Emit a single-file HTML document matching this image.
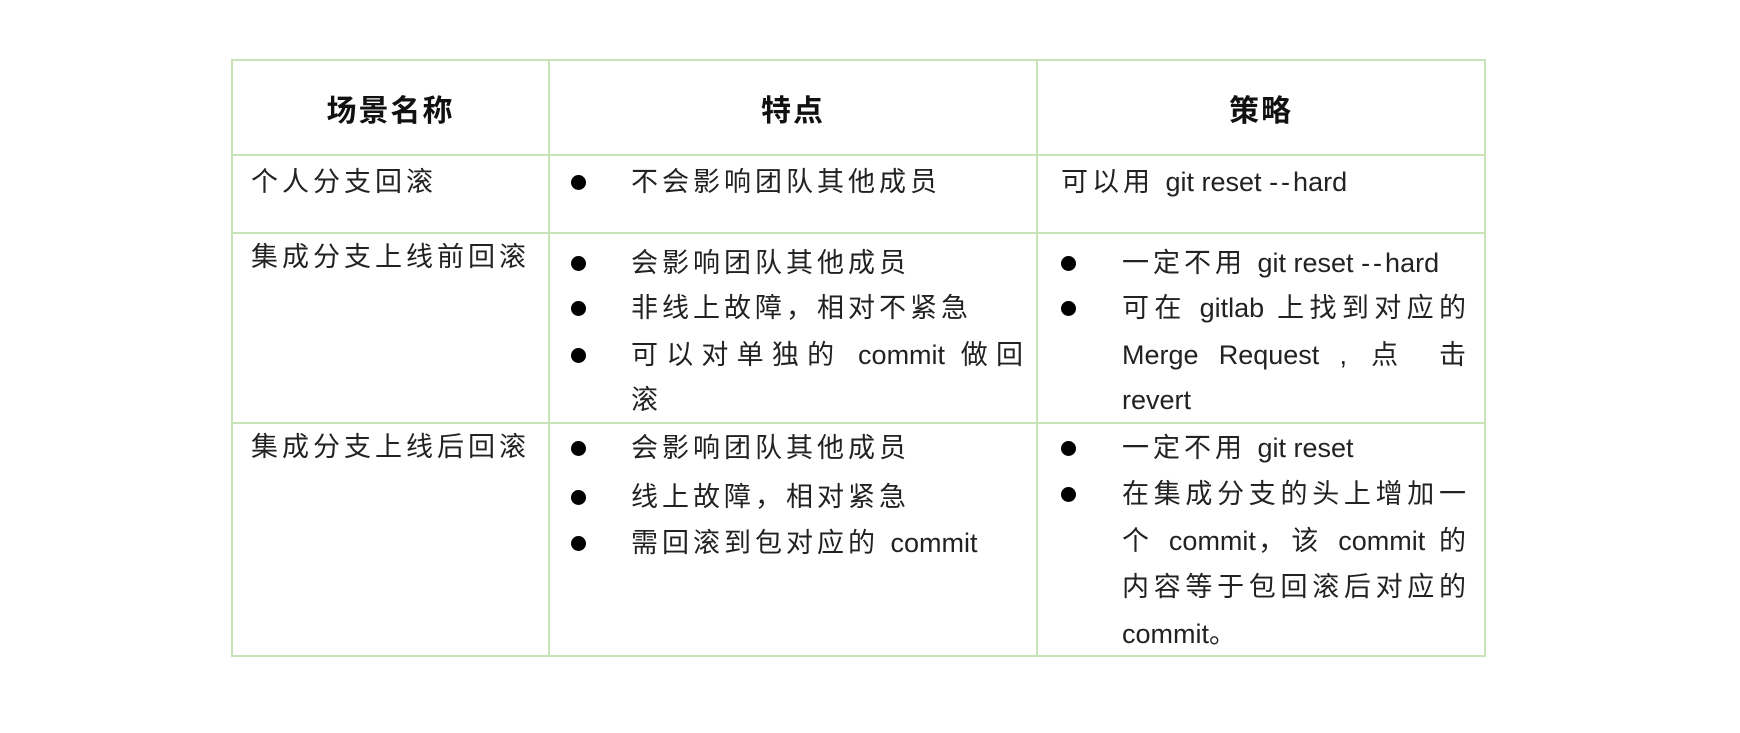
<!DOCTYPE html>
<html><head><meta charset="utf-8"><style>
body{margin:0;background:#fff;width:1740px;height:733px;position:relative;overflow:hidden;font-family:"Liberation Sans","Noto Sans CJK SC",sans-serif;color:#222}
.h{position:absolute;background:#c9e3b8}
.t{position:absolute;font-size:27px;line-height:40px;height:40px;white-space:nowrap;letter-spacing:4px}
.t span{letter-spacing:0}
.t span.d{letter-spacing:3px}
.j{text-align:justify;text-align-last:justify}
.b{position:absolute;width:15px;height:15px;border-radius:50%;background:#000}
.hd{position:absolute;font-size:30px;font-weight:bold;line-height:40px;text-align:center;letter-spacing:2px;color:#111}
</style></head><body>
<div class="h" style="left:232px;top:59px;width:1254px;height:2px"></div>
<div class="h" style="left:232px;top:154px;width:1254px;height:2px"></div>
<div class="h" style="left:232px;top:232px;width:1254px;height:2px"></div>
<div class="h" style="left:232px;top:422px;width:1254px;height:2px"></div>
<div class="h" style="left:232px;top:655px;width:1254px;height:2px"></div>
<div class="h" style="left:231px;top:59px;width:2px;height:598px"></div>
<div class="h" style="left:548px;top:59px;width:2px;height:598px"></div>
<div class="h" style="left:1036px;top:59px;width:2px;height:598px"></div>
<div class="h" style="left:1484px;top:59px;width:2px;height:598px"></div>

<div class="hd" style="left:232px;width:317px;top:92px">场景名称</div>
<div class="hd" style="left:549px;width:488px;top:92px">特点</div>
<div class="hd" style="left:1037px;width:448px;top:92px">策略</div>

<div class="t" style="left:251px;top:162px">个人分支回滚</div>
<div class="t" style="left:251px;top:237px">集成分支上线前回滚</div>
<div class="t" style="left:251px;top:427px">集成分支上线后回滚</div>

<div class="b" style="left:571px;top:175px"></div>
<div class="t" style="left:631px;top:162px">不会影响团队其他成员</div>

<div class="b" style="left:571px;top:256px"></div>
<div class="t" style="left:631px;top:243px">会影响团队其他成员</div>
<div class="b" style="left:571px;top:301px"></div>
<div class="t" style="left:631px;top:288px">非线上故障，相对不紧急</div>
<div class="b" style="left:571px;top:348px"></div>
<div class="t j" style="left:631px;top:335px;width:396px">可以对单独的 <span>commit</span> 做回</div>
<div class="t" style="left:631px;top:380px">滚</div>

<div class="b" style="left:571px;top:441px"></div>
<div class="t" style="left:631px;top:428px">会影响团队其他成员</div>
<div class="b" style="left:571px;top:490px"></div>
<div class="t" style="left:631px;top:477px">线上故障，相对紧急</div>
<div class="b" style="left:571px;top:536px"></div>
<div class="t" style="left:631px;top:523px">需回滚到包对应的 <span>commit</span></div>

<div class="t" style="left:1061px;top:162px">可以用 <span>git reset <span class="d">--</span>hard</span></div>

<div class="b" style="left:1061px;top:256px"></div>
<div class="t" style="left:1122px;top:243px">一定不用 <span>git reset <span class="d">--</span>hard</span></div>
<div class="b" style="left:1061px;top:301px"></div>
<div class="t j" style="left:1122px;top:288px;width:348px">可在 <span>gitlab</span> 上找到对应的</div>
<div class="t j" style="left:1122px;top:335px;width:348px"><span>Merge Request ,</span> 点 击</div>
<div class="t" style="left:1122px;top:380px"><span>revert</span></div>

<div class="b" style="left:1061px;top:441px"></div>
<div class="t" style="left:1122px;top:428px">一定不用 <span>git reset</span></div>
<div class="b" style="left:1061px;top:487px"></div>
<div class="t j" style="left:1122px;top:474px;width:348px">在集成分支的头上增加一</div>
<div class="t j" style="left:1122px;top:521px;width:348px">个 <span>commit</span>，该 <span>commit</span> 的</div>
<div class="t j" style="left:1122px;top:567px;width:348px">内容等于包回滚后对应的</div>
<div class="t" style="left:1122px;top:614px"><span>commit</span>。</div>
</body></html>
